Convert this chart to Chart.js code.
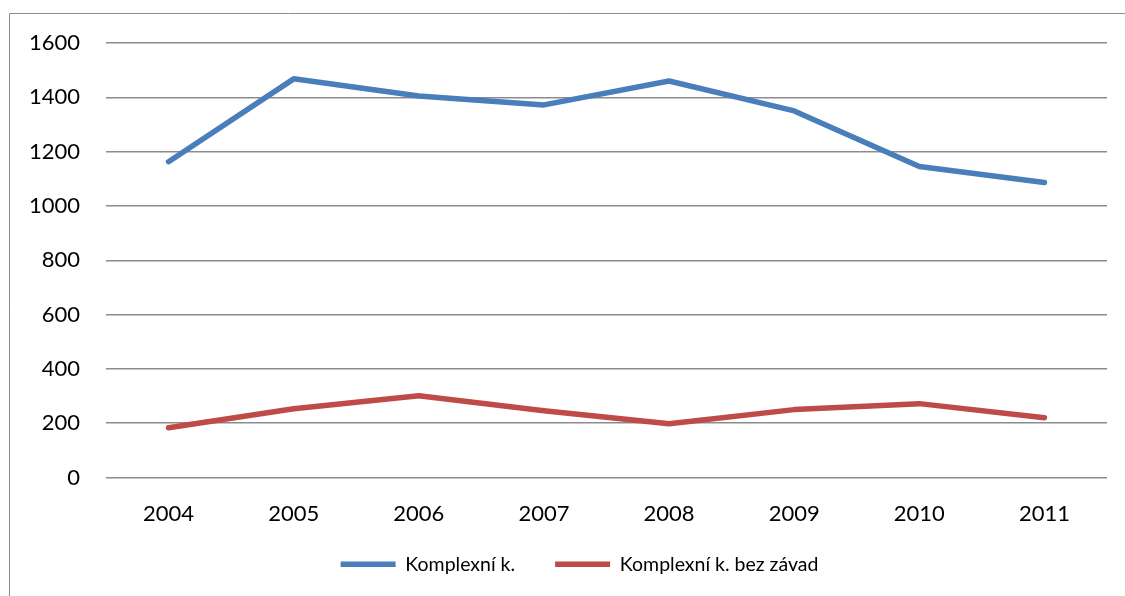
<!DOCTYPE html>
<html>
<head>
<meta charset="utf-8">
<script src="https://cdn.jsdelivr.net/npm/chart.js@4/dist/chart.umd.min.js"></script>
<style>
  html, body { margin: 0; padding: 0; background: #fff; }
  #wrap { position: relative; width: 1125px; height: 596px; }
</style>
</head>
<body>
<div id="wrap"><canvas id="chart" width="1125" height="596"></canvas></div>
<script>
// ── DATA ─────────────────────────────────────────────────
const years       = ['2004', '2005', '2006', '2007', '2008', '2009', '2010', '2011'];
const komplexni   = [1163, 1468, 1405, 1372, 1460, 1350, 1145, 1086];
const bezZavad    = [183, 253, 301, 246, 198, 250, 272, 220];
const seriesNames = ['Komplexní k.', 'Komplexní k. bez závad'];

const FONT = "Lato, 'Open Sans', sans-serif";

// ── frame around the chart (only top + left are visible) ─
const framePlugin = {
  id: 'frame',
  beforeDraw(chart) {
    const ctx = chart.ctx;
    ctx.save();
    ctx.strokeStyle = '#8c8c8c';
    ctx.lineWidth = 1;
    ctx.beginPath();
    ctx.moveTo(9.5, 596);
    ctx.lineTo(9.5, 13.5);
    ctx.lineTo(1125, 13.5);
    ctx.stroke();
    ctx.restore();
  }
};

// ── layout tweaks: let x labels hang below their box, nudge legend right ─
const tweakPlugin = {
  id: 'tweak',
  afterLayout(chart) {
    chart.scales.x.bottom = chart.scales.x.top + 80;
    chart.legend.left += 42;
  }
};

new Chart(document.getElementById('chart'), {
  type: 'line',
  data: {
    labels: years,
    datasets: [
      { label: seriesNames[0], data: komplexni, borderColor: '#4a7ebb', backgroundColor: '#4a7ebb',
        borderWidth: 5.5, pointRadius: 0, tension: 0, borderCapStyle: 'round', borderJoinStyle: 'round' },
      { label: seriesNames[1], data: bezZavad, borderColor: '#be4b48', backgroundColor: '#be4b48',
        borderWidth: 5.5, pointRadius: 0, tension: 0, borderCapStyle: 'round', borderJoinStyle: 'round' }
    ]
  },
  options: {
    responsive: false,
    animation: false,
    layout: { padding: { left: 10, top: 43, right: 18, bottom: 12 } },
    plugins: {
      tooltip: { enabled: false },
      legend: {
        position: 'bottom',
        labels: {
          usePointStyle: true,
          pointStyle: 'line',
          pointStyleWidth: 55,
          boxWidth: 55,
          color: '#000',
          padding: 40,
          font: { family: FONT, size: 19.5 }
        }
      }
    },
    scales: {
      x: {
        offset: true,
        grid: { display: false, drawTicks: false },
        border: { display: false },
        ticks: { color: '#000', padding: 23, font: { family: FONT, size: 22 } },
        afterFit(scale) { scale.height = 37; }
      },
      y: {
        min: 0, max: 1600,
        grid: { color: '#8c8c8c', lineWidth: 1.5, drawTicks: false },
        border: { display: false },
        ticks: { stepSize: 200, color: '#000', padding: 26, font: { family: FONT, size: 22 },
                 callback: v => String(v) },
        afterFit(scale) { scale.width = 96; }
      }
    }
  },
  plugins: [framePlugin, tweakPlugin]
});
</script>
</body>
</html>
